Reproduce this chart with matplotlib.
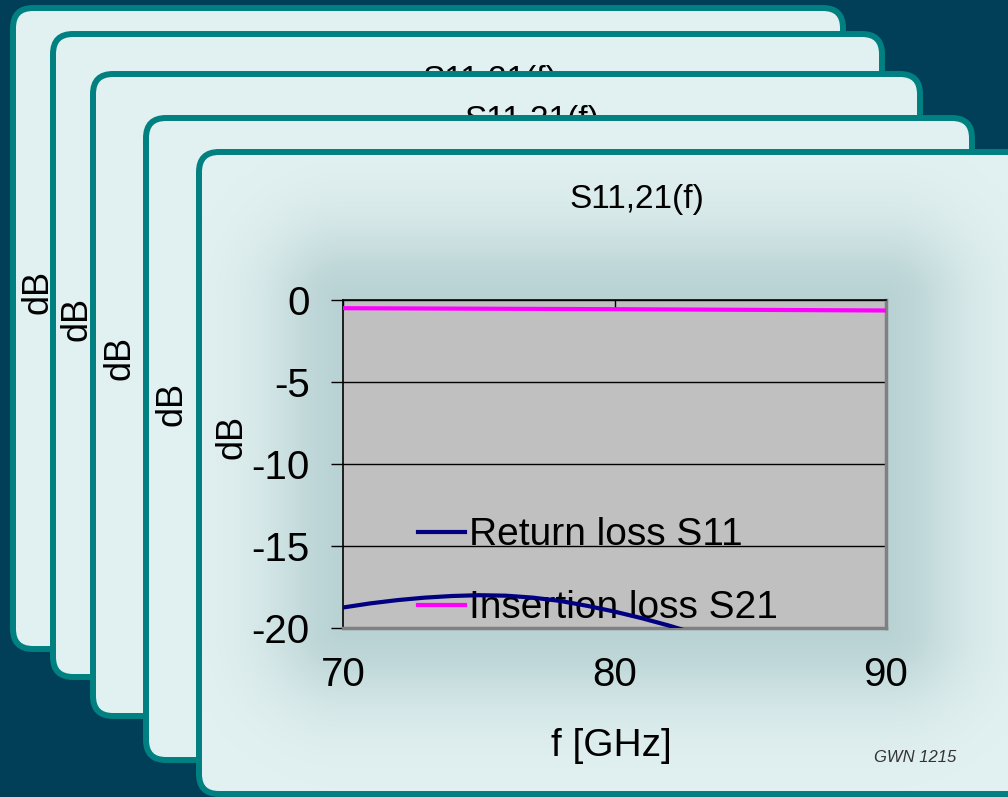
import numpy as np
import matplotlib.pyplot as plt
from matplotlib.patches import FancyBboxPatch

plt.rcParams['font.family'] = ['Liberation Sans', 'DejaVu Sans']
plt.rcParams['axes.unicode_minus'] = False

# S-parameter sweep
freq_s11 = [70, 71, 72, 73, 74, 75, 76, 77, 78, 79, 80, 81, 82, 83, 84, 86, 88, 90]
s11 = [-18.75, -18.5, -18.3, -18.15, -18.05, -18.0, -18.03, -18.15, -18.35, -18.65,
       -19.0, -19.4, -19.85, -20.35, -20.9, -22.2, -23.8, -25.6]
freq_s21 = [70, 75, 80, 85, 90]
s21 = [-0.50, -0.53, -0.56, -0.60, -0.64]
series_names = ['Return loss S11', 'Insertion loss S21']
x_ticks = [70, 80, 90]
y_ticks = [0, -5, -10, -15, -20]
chart_title = 'S11,21(f)'

W, H = 1008, 797
fig = plt.figure(figsize=(W / 100, H / 100), dpi=100)
fig.patch.set_facecolor('#003F57')

# backdrop: stack of slide cards in pixel coordinates
bg = fig.add_axes([0, 0, 1, 1])
bg.set_xlim(0, W)
bg.set_ylim(H, 0)
bg.axis('off')

cards = [(13, 8, 843, 649), (53, 34, 882, 677), (93, 74, 920, 716),
         (146, 118, 972, 760), (199, 152, 1040, 794)]
for i, (x0, y0, x1, y1) in enumerate(cards):
    bg.add_patch(FancyBboxPatch((x0, y0), x1 - x0, y1 - y0,
                                boxstyle='round,pad=0,rounding_size=20',
                                fc='#E1F0F0', ec='#008080', lw=4.3,
                                zorder=10 * i + 1))

# leftovers of the cards underneath
for x, y, i in [(490, 80, 1), (532, 120, 2)]:
    bg.text(x, y, chart_title, fontsize=24, ha='center', va='center', zorder=10 * i + 2)
for x, y, i in [(38, 292, 0), (77, 319, 1), (120, 358, 2), (172, 404, 3)]:
    bg.text(x, y, 'dB', fontsize=26, rotation=90, ha='center', va='center',
            zorder=10 * i + 2)

# soft shadow around the plot area on the front card
px0, px1, py0, py1 = 343, 886, 300, 628
gx = np.arange(203, W)
gy = np.arange(156, H)
X, Y = np.meshgrid(gx, gy)
dx = np.maximum(np.maximum(px0 - X, X - px1), 0)
dy = np.maximum(np.maximum(py0 - Y, Y - py1), 0)
d = np.hypot(dx, dy)
rgba = np.zeros(X.shape + (4,))
rgba[..., :3] = (0.45, 0.62, 0.64)
rgba[..., 3] = 0.36 * np.exp(-(d / 75.0) ** 2)
bg.imshow(rgba, extent=(203, W, H, 156), zorder=45, interpolation='bilinear', aspect='auto')
bg.set_xlim(0, W)
bg.set_ylim(H, 0)

# chart
ax = fig.add_axes([px0 / W, (H - py1) / H, (px1 - px0) / W, (py1 - py0) / H])
ax.set_facecolor('#C0C0C0')
ax.plot(freq_s11, s11, color='#000080', lw=3, label=series_names[0], zorder=3)
ax.plot(freq_s21, s21, color='#FF00FF', lw=3, label=series_names[1], zorder=3)
ax.set_xlim(70, 90)
ax.set_ylim(-20, 0)
ax.set_xticks(x_ticks)
ax.set_yticks(y_ticks)
ax.yaxis.grid(True, color='black', lw=1)
ax.set_axisbelow(True)

ax.tick_params(axis='x', bottom=False, top=True, direction='in', length=7, width=1,
               labelsize=29, pad=20, labelbottom=True)
ax.tick_params(axis='y', direction='out', length=9, width=1, labelsize=29, pad=15)

for side in ['top', 'left']:
    ax.spines[side].set_color('black')
    ax.spines[side].set_linewidth(1.2)
for side in ['right', 'bottom']:
    ax.spines[side].set_color('#808080')
    ax.spines[side].set_linewidth(2.5)

leg = ax.legend(loc='center left', bbox_to_anchor=(0.138, 0.171), frameon=False,
                fontsize=28, handlelength=1.2, handletextpad=0.12, labelspacing=0.95,
                borderpad=0, borderaxespad=0)
leg.set_zorder(2.5)

ax.set_title(chart_title, fontsize=24, y=1.28, va='center')
ax.title.set_x(0.541)
ax.set_xlabel('f [GHz]', fontsize=28)
ax.xaxis.set_label_coords(0.495, -0.36)
ax.xaxis.label.set_va('center')
ax.set_ylabel('dB', fontsize=26)
ax.yaxis.set_label_coords(-0.205, 0.582)
ax.yaxis.label.set_va('center')

fig.text(915 / W, 1 - 757 / H, 'GWN 1215', style='italic', fontsize=12,
         color='#333333', ha='center', va='center')

fig.savefig('out.png', dpi=100, facecolor=fig.get_facecolor())
